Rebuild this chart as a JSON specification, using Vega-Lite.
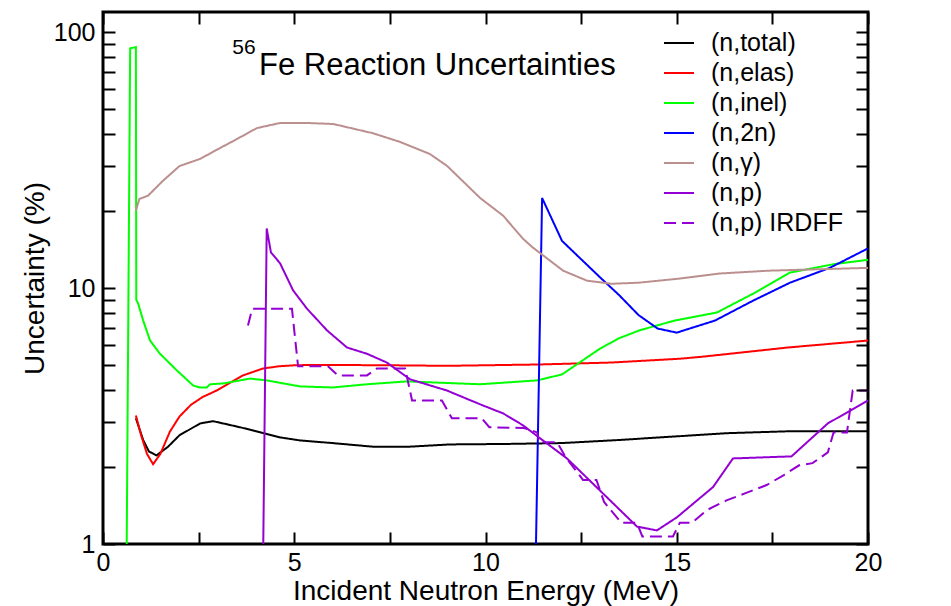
{
  "$schema": "https://vega.github.io/schema/vega-lite/v6.json",
  "width": 765,
  "height": 532,
  "autosize": {"type": "none"},
  "padding": {"left": 103, "top": 12, "right": 83, "bottom": 62},
  "background": "white",
  "config": {
    "font": "Liberation Sans",
    "view": {"stroke": "black", "strokeWidth": 3}
  },
  "datasets": {
    "reactions": [
      {"reaction": "(n,total)", "energy": 0.86, "uncertainty": 3.10},
      {"reaction": "(n,total)", "energy": 1.05, "uncertainty": 2.55},
      {"reaction": "(n,total)", "energy": 1.2, "uncertainty": 2.3},
      {"reaction": "(n,total)", "energy": 1.4, "uncertainty": 2.22},
      {"reaction": "(n,total)", "energy": 1.7, "uncertainty": 2.40},
      {"reaction": "(n,total)", "energy": 2.0, "uncertainty": 2.66},
      {"reaction": "(n,total)", "energy": 2.54, "uncertainty": 2.96},
      {"reaction": "(n,total)", "energy": 2.88, "uncertainty": 3.02},
      {"reaction": "(n,total)", "energy": 3.58, "uncertainty": 2.86},
      {"reaction": "(n,total)", "energy": 4.0, "uncertainty": 2.76},
      {"reaction": "(n,total)", "energy": 4.63, "uncertainty": 2.61},
      {"reaction": "(n,total)", "energy": 5.15, "uncertainty": 2.54},
      {"reaction": "(n,total)", "energy": 6.0, "uncertainty": 2.48},
      {"reaction": "(n,total)", "energy": 7.06, "uncertainty": 2.40},
      {"reaction": "(n,total)", "energy": 8.0, "uncertainty": 2.40},
      {"reaction": "(n,total)", "energy": 9.07, "uncertainty": 2.45},
      {"reaction": "(n,total)", "energy": 10.5, "uncertainty": 2.46},
      {"reaction": "(n,total)", "energy": 12.0, "uncertainty": 2.48},
      {"reaction": "(n,total)", "energy": 13.5, "uncertainty": 2.55},
      {"reaction": "(n,total)", "energy": 14.56, "uncertainty": 2.61},
      {"reaction": "(n,total)", "energy": 15.1, "uncertainty": 2.64},
      {"reaction": "(n,total)", "energy": 16.3, "uncertainty": 2.71},
      {"reaction": "(n,total)", "energy": 18.0, "uncertainty": 2.76},
      {"reaction": "(n,total)", "energy": 20.0, "uncertainty": 2.76},

      {"reaction": "(n,elas)", "energy": 0.86, "uncertainty": 3.18},
      {"reaction": "(n,elas)", "energy": 1.0, "uncertainty": 2.65},
      {"reaction": "(n,elas)", "energy": 1.15, "uncertainty": 2.25},
      {"reaction": "(n,elas)", "energy": 1.31, "uncertainty": 2.05},
      {"reaction": "(n,elas)", "energy": 1.5, "uncertainty": 2.25},
      {"reaction": "(n,elas)", "energy": 1.75, "uncertainty": 2.75},
      {"reaction": "(n,elas)", "energy": 2.0, "uncertainty": 3.15},
      {"reaction": "(n,elas)", "energy": 2.3, "uncertainty": 3.5},
      {"reaction": "(n,elas)", "energy": 2.6, "uncertainty": 3.75},
      {"reaction": "(n,elas)", "energy": 2.97, "uncertainty": 3.98},
      {"reaction": "(n,elas)", "energy": 3.3, "uncertainty": 4.25},
      {"reaction": "(n,elas)", "energy": 3.66, "uncertainty": 4.56},
      {"reaction": "(n,elas)", "energy": 4.18, "uncertainty": 4.85},
      {"reaction": "(n,elas)", "energy": 4.6, "uncertainty": 4.95},
      {"reaction": "(n,elas)", "energy": 5.07, "uncertainty": 5.0},
      {"reaction": "(n,elas)", "energy": 6.0, "uncertainty": 5.01},
      {"reaction": "(n,elas)", "energy": 7.76, "uncertainty": 4.99},
      {"reaction": "(n,elas)", "energy": 9.0, "uncertainty": 4.97},
      {"reaction": "(n,elas)", "energy": 11.4, "uncertainty": 5.03},
      {"reaction": "(n,elas)", "energy": 13.3, "uncertainty": 5.12},
      {"reaction": "(n,elas)", "energy": 15.1, "uncertainty": 5.30},
      {"reaction": "(n,elas)", "energy": 15.7, "uncertainty": 5.40},
      {"reaction": "(n,elas)", "energy": 17.9, "uncertainty": 5.86},
      {"reaction": "(n,elas)", "energy": 20.0, "uncertainty": 6.24},

      {"reaction": "(n,inel)", "energy": 0.62, "uncertainty": 1.0},
      {"reaction": "(n,inel)", "energy": 0.71, "uncertainty": 86.5},
      {"reaction": "(n,inel)", "energy": 0.86, "uncertainty": 87.5},
      {"reaction": "(n,inel)", "energy": 0.87, "uncertainty": 9.0},
      {"reaction": "(n,inel)", "energy": 0.92, "uncertainty": 8.7},
      {"reaction": "(n,inel)", "energy": 1.05, "uncertainty": 7.47},
      {"reaction": "(n,inel)", "energy": 1.23, "uncertainty": 6.24},
      {"reaction": "(n,inel)", "energy": 1.49, "uncertainty": 5.54},
      {"reaction": "(n,inel)", "energy": 1.93, "uncertainty": 4.77},
      {"reaction": "(n,inel)", "energy": 2.36, "uncertainty": 4.16},
      {"reaction": "(n,inel)", "energy": 2.54, "uncertainty": 4.09},
      {"reaction": "(n,inel)", "energy": 2.71, "uncertainty": 4.09},
      {"reaction": "(n,inel)", "energy": 2.8, "uncertainty": 4.21},
      {"reaction": "(n,inel)", "energy": 3.14, "uncertainty": 4.24},
      {"reaction": "(n,inel)", "energy": 3.84, "uncertainty": 4.43},
      {"reaction": "(n,inel)", "energy": 4.28, "uncertainty": 4.36},
      {"reaction": "(n,inel)", "energy": 5.15, "uncertainty": 4.13},
      {"reaction": "(n,inel)", "energy": 6.0, "uncertainty": 4.09},
      {"reaction": "(n,inel)", "energy": 6.9, "uncertainty": 4.21},
      {"reaction": "(n,inel)", "energy": 7.94, "uncertainty": 4.32},
      {"reaction": "(n,inel)", "energy": 9.86, "uncertainty": 4.21},
      {"reaction": "(n,inel)", "energy": 11.35, "uncertainty": 4.36},
      {"reaction": "(n,inel)", "energy": 12.0, "uncertainty": 4.6},
      {"reaction": "(n,inel)", "energy": 13.0, "uncertainty": 5.81},
      {"reaction": "(n,inel)", "energy": 13.5, "uncertainty": 6.38},
      {"reaction": "(n,inel)", "energy": 14.04, "uncertainty": 6.85},
      {"reaction": "(n,inel)", "energy": 14.95, "uncertainty": 7.47},
      {"reaction": "(n,inel)", "energy": 16.05, "uncertainty": 8.03},
      {"reaction": "(n,inel)", "energy": 17.0, "uncertainty": 9.52},
      {"reaction": "(n,inel)", "energy": 17.96, "uncertainty": 11.5},
      {"reaction": "(n,inel)", "energy": 19.1, "uncertainty": 12.4},
      {"reaction": "(n,inel)", "energy": 20.0, "uncertainty": 12.9},

      {"reaction": "(n,2n)", "energy": 11.32, "uncertainty": 1.0},
      {"reaction": "(n,2n)", "energy": 11.48, "uncertainty": 22.5},
      {"reaction": "(n,2n)", "energy": 12.0, "uncertainty": 15.3},
      {"reaction": "(n,2n)", "energy": 12.47, "uncertainty": 13.1},
      {"reaction": "(n,2n)", "energy": 13.0, "uncertainty": 11.0},
      {"reaction": "(n,2n)", "energy": 13.5, "uncertainty": 9.37},
      {"reaction": "(n,2n)", "energy": 14.0, "uncertainty": 7.85},
      {"reaction": "(n,2n)", "energy": 14.5, "uncertainty": 6.95},
      {"reaction": "(n,2n)", "energy": 15.0, "uncertainty": 6.7},
      {"reaction": "(n,2n)", "energy": 16.0, "uncertainty": 7.47},
      {"reaction": "(n,2n)", "energy": 17.0, "uncertainty": 8.94},
      {"reaction": "(n,2n)", "energy": 17.96, "uncertainty": 10.5},
      {"reaction": "(n,2n)", "energy": 19.0, "uncertainty": 12.0},
      {"reaction": "(n,2n)", "energy": 20.0, "uncertainty": 14.3},

      {"reaction": "(n,γ)", "energy": 0.86, "uncertainty": 20.1},
      {"reaction": "(n,γ)", "energy": 0.95, "uncertainty": 22.3},
      {"reaction": "(n,γ)", "energy": 1.18, "uncertainty": 23.0},
      {"reaction": "(n,γ)", "energy": 1.57, "uncertainty": 26.3},
      {"reaction": "(n,γ)", "energy": 2.0, "uncertainty": 30.0},
      {"reaction": "(n,γ)", "energy": 2.54, "uncertainty": 32.0},
      {"reaction": "(n,γ)", "energy": 2.97, "uncertainty": 34.7},
      {"reaction": "(n,γ)", "energy": 3.41, "uncertainty": 37.6},
      {"reaction": "(n,γ)", "energy": 4.02, "uncertainty": 42.2},
      {"reaction": "(n,γ)", "energy": 4.63, "uncertainty": 44.2},
      {"reaction": "(n,γ)", "energy": 5.33, "uncertainty": 44.2},
      {"reaction": "(n,γ)", "energy": 6.02, "uncertainty": 43.8},
      {"reaction": "(n,γ)", "energy": 7.06, "uncertainty": 40.3},
      {"reaction": "(n,γ)", "energy": 7.76, "uncertainty": 37.3},
      {"reaction": "(n,γ)", "energy": 8.55, "uncertainty": 33.4},
      {"reaction": "(n,γ)", "energy": 9.0, "uncertainty": 30.0},
      {"reaction": "(n,γ)", "energy": 9.86, "uncertainty": 22.5},
      {"reaction": "(n,γ)", "energy": 10.46, "uncertainty": 19.2},
      {"reaction": "(n,γ)", "energy": 10.98, "uncertainty": 15.6},
      {"reaction": "(n,γ)", "energy": 11.24, "uncertainty": 14.4},
      {"reaction": "(n,γ)", "energy": 12.03, "uncertainty": 11.7},
      {"reaction": "(n,γ)", "energy": 12.65, "uncertainty": 10.7},
      {"reaction": "(n,γ)", "energy": 13.3, "uncertainty": 10.4},
      {"reaction": "(n,γ)", "energy": 14.0, "uncertainty": 10.5},
      {"reaction": "(n,γ)", "energy": 15.08, "uncertainty": 10.9},
      {"reaction": "(n,γ)", "energy": 16.1, "uncertainty": 11.4},
      {"reaction": "(n,γ)", "energy": 17.4, "uncertainty": 11.7},
      {"reaction": "(n,γ)", "energy": 20.0, "uncertainty": 12.0},

      {"reaction": "(n,p)", "energy": 4.19, "uncertainty": 1.0},
      {"reaction": "(n,p)", "energy": 4.28, "uncertainty": 17.1},
      {"reaction": "(n,p)", "energy": 4.39, "uncertainty": 13.8},
      {"reaction": "(n,p)", "energy": 4.63, "uncertainty": 12.5},
      {"reaction": "(n,p)", "energy": 4.97, "uncertainty": 9.8},
      {"reaction": "(n,p)", "energy": 5.33, "uncertainty": 8.32},
      {"reaction": "(n,p)", "energy": 5.86, "uncertainty": 6.83},
      {"reaction": "(n,p)", "energy": 6.38, "uncertainty": 5.86},
      {"reaction": "(n,p)", "energy": 6.9, "uncertainty": 5.54},
      {"reaction": "(n,p)", "energy": 7.42, "uncertainty": 5.12},
      {"reaction": "(n,p)", "energy": 8.03, "uncertainty": 4.4},
      {"reaction": "(n,p)", "energy": 8.99, "uncertainty": 3.98},
      {"reaction": "(n,p)", "energy": 9.93, "uncertainty": 3.48},
      {"reaction": "(n,p)", "energy": 10.46, "uncertainty": 3.24},
      {"reaction": "(n,p)", "energy": 10.98, "uncertainty": 2.91},
      {"reaction": "(n,p)", "energy": 11.5, "uncertainty": 2.54},
      {"reaction": "(n,p)", "energy": 12.13, "uncertainty": 2.16},
      {"reaction": "(n,p)", "energy": 13.96, "uncertainty": 1.17},
      {"reaction": "(n,p)", "energy": 14.48, "uncertainty": 1.13},
      {"reaction": "(n,p)", "energy": 15.0, "uncertainty": 1.27},
      {"reaction": "(n,p)", "energy": 15.95, "uncertainty": 1.67},
      {"reaction": "(n,p)", "energy": 16.47, "uncertainty": 2.16},
      {"reaction": "(n,p)", "energy": 18.0, "uncertainty": 2.2},
      {"reaction": "(n,p)", "energy": 18.95, "uncertainty": 2.96},
      {"reaction": "(n,p)", "energy": 20.0, "uncertainty": 3.64}
    ],
    "irdff": [
      {"reaction": "(n,p) IRDFF", "energy": 3.79, "uncertainty": 7.15},
      {"reaction": "(n,p) IRDFF", "energy": 3.9, "uncertainty": 8.3},
      {"reaction": "(n,p) IRDFF", "energy": 4.94, "uncertainty": 8.3},
      {"reaction": "(n,p) IRDFF", "energy": 5.1, "uncertainty": 4.95},
      {"reaction": "(n,p) IRDFF", "energy": 5.88, "uncertainty": 4.95},
      {"reaction": "(n,p) IRDFF", "energy": 6.14, "uncertainty": 4.56},
      {"reaction": "(n,p) IRDFF", "energy": 6.9, "uncertainty": 4.56},
      {"reaction": "(n,p) IRDFF", "energy": 7.16, "uncertainty": 4.85},
      {"reaction": "(n,p) IRDFF", "energy": 7.9, "uncertainty": 4.85},
      {"reaction": "(n,p) IRDFF", "energy": 8.08, "uncertainty": 3.64},
      {"reaction": "(n,p) IRDFF", "energy": 8.86, "uncertainty": 3.64},
      {"reaction": "(n,p) IRDFF", "energy": 9.12, "uncertainty": 3.10},
      {"reaction": "(n,p) IRDFF", "energy": 9.9, "uncertainty": 3.10},
      {"reaction": "(n,p) IRDFF", "energy": 10.1, "uncertainty": 2.86},
      {"reaction": "(n,p) IRDFF", "energy": 11.0, "uncertainty": 2.84},
      {"reaction": "(n,p) IRDFF", "energy": 11.35, "uncertainty": 2.73},
      {"reaction": "(n,p) IRDFF", "energy": 11.4, "uncertainty": 2.5},
      {"reaction": "(n,p) IRDFF", "energy": 11.87, "uncertainty": 2.5},
      {"reaction": "(n,p) IRDFF", "energy": 12.1, "uncertainty": 2.18},
      {"reaction": "(n,p) IRDFF", "energy": 12.55, "uncertainty": 1.78},
      {"reaction": "(n,p) IRDFF", "energy": 12.9, "uncertainty": 1.78},
      {"reaction": "(n,p) IRDFF", "energy": 13.1, "uncertainty": 1.46},
      {"reaction": "(n,p) IRDFF", "energy": 13.55, "uncertainty": 1.21},
      {"reaction": "(n,p) IRDFF", "energy": 13.96, "uncertainty": 1.21},
      {"reaction": "(n,p) IRDFF", "energy": 14.1, "uncertainty": 1.07},
      {"reaction": "(n,p) IRDFF", "energy": 14.9, "uncertainty": 1.07},
      {"reaction": "(n,p) IRDFF", "energy": 15.08, "uncertainty": 1.21},
      {"reaction": "(n,p) IRDFF", "energy": 15.4, "uncertainty": 1.21},
      {"reaction": "(n,p) IRDFF", "energy": 15.8, "uncertainty": 1.36},
      {"reaction": "(n,p) IRDFF", "energy": 16.3, "uncertainty": 1.48},
      {"reaction": "(n,p) IRDFF", "energy": 16.8, "uncertainty": 1.58},
      {"reaction": "(n,p) IRDFF", "energy": 17.35, "uncertainty": 1.7},
      {"reaction": "(n,p) IRDFF", "energy": 17.8, "uncertainty": 1.86},
      {"reaction": "(n,p) IRDFF", "energy": 18.2, "uncertainty": 2.03},
      {"reaction": "(n,p) IRDFF", "energy": 18.55, "uncertainty": 2.07},
      {"reaction": "(n,p) IRDFF", "energy": 18.95, "uncertainty": 2.28},
      {"reaction": "(n,p) IRDFF", "energy": 19.1, "uncertainty": 2.73},
      {"reaction": "(n,p) IRDFF", "energy": 19.45, "uncertainty": 2.73},
      {"reaction": "(n,p) IRDFF", "energy": 19.6, "uncertainty": 3.98},
      {"reaction": "(n,p) IRDFF", "energy": 20.0, "uncertainty": 3.98}
    ],
    "heading": [{}]
  },
  "layer": [
    {
      "data": {"name": "reactions"},
      "mark": {"type": "line", "strokeWidth": 2},
      "encoding": {
        "x": {
          "field": "energy", "type": "quantitative",
          "scale": {"domain": [0, 20], "nice": false, "zero": false},
          "axis": {
            "orient": "bottom", "offset": -12, "grid": false, "domain": false, "zindex": 1,
            "tickColor": "black", "tickWidth": 2, "tickSize": 12,
            "values": [0, 2.5, 5, 7.5, 10, 12.5, 15, 17.5, 20],
            "labelExpr": "datum.value % 5 === 0 ? '' + datum.value : ''",
            "labelFontSize": 25, "labelColor": "black", "labelPadding": 6, "labelFlush": false,
            "title": "Incident Neutron Energy (MeV)", "titleFontSize": 28, "titleFontWeight": "normal", "titleColor": "black", "titlePadding": 2
          }
        },
        "y": {
          "field": "uncertainty", "type": "quantitative",
          "scale": {"type": "log", "domain": [1, 120], "nice": false},
          "axis": {
            "orient": "left", "offset": -12, "grid": false, "domain": false, "zindex": 1,
            "tickColor": "black", "tickWidth": 2, "tickSize": 12,
            "values": [1, 2, 3, 4, 5, 6, 7, 8, 9, 10, 20, 30, 40, 50, 60, 70, 80, 90, 100],
            "labelExpr": "datum.value == 1 || datum.value == 10 || datum.value == 100 ? '' + datum.value : ''",
            "labelFontSize": 25, "labelColor": "black", "labelPadding": 8,
            "title": "Uncertainty (%)", "titleFontSize": 28, "titleFontWeight": "normal", "titleColor": "black", "titlePadding": 4
          }
        },
        "color": {
          "field": "reaction", "type": "nominal",
          "scale": {
            "domain": ["(n,total)", "(n,elas)", "(n,inel)", "(n,2n)", "(n,γ)", "(n,p)", "(n,p) IRDFF"],
            "range": ["#000000", "#ff0000", "#00ff00", "#0000ff", "#bc8f8f", "#9400d3", "#9400d3"]
          },
          "legend": {"orient": "none", "legendX": 560, "legendY": 15, "title": null, "padding": 0, "symbolType": "stroke", "symbolSize": 900, "symbolStrokeWidth": 2, "labelFontSize": 25, "labelColor": "black", "labelOffset": 16, "rowPadding": 1}
        },
        "strokeDash": {
          "field": "reaction", "type": "nominal",
          "scale": {
            "domain": ["(n,total)", "(n,elas)", "(n,inel)", "(n,2n)", "(n,γ)", "(n,p)", "(n,p) IRDFF"],
            "range": [[1, 0], [1, 0], [1, 0], [1, 0], [1, 0], [1, 0], [12, 6]]
          },
          "legend": {"orient": "none", "legendX": 560, "legendY": 15, "title": null, "padding": 0, "symbolType": "stroke", "symbolSize": 900, "symbolStrokeWidth": 2, "labelFontSize": 25, "labelColor": "black", "labelOffset": 16, "rowPadding": 1}
        }
      }
    },
    {
      "data": {"name": "irdff"},
      "mark": {"type": "line", "strokeWidth": 2},
      "encoding": {
        "x": {
          "field": "energy", "type": "quantitative",
          "axis": {"orient": "top", "offset": -12, "grid": false, "domain": false, "zindex": 1, "tickColor": "black", "tickWidth": 2, "tickSize": 12, "title": null, "labels": false, "values": [0, 2.5, 5, 7.5, 10, 12.5, 15, 17.5, 20]}
        },
        "y": {
          "field": "uncertainty", "type": "quantitative",
          "axis": {"orient": "right", "offset": -12, "grid": false, "domain": false, "zindex": 1, "tickColor": "black", "tickWidth": 2, "tickSize": 12, "title": null, "labels": false, "values": [1, 2, 3, 4, 5, 6, 7, 8, 9, 10, 20, 30, 40, 50, 60, 70, 80, 90, 100]}
        },
        "color": {"field": "reaction", "type": "nominal"},
        "strokeDash": {"field": "reaction", "type": "nominal"}
      }
    },
    {
      "data": {"name": "heading"},
      "mark": {"type": "text", "text": "Fe Reaction Uncertainties", "align": "left", "baseline": "alphabetic", "fontSize": 31, "color": "black"},
      "encoding": {
        "x": {"datum": 4.08, "type": "quantitative", "axis": null},
        "y": {"datum": 68, "type": "quantitative", "axis": null}
      }
    },
    {
      "data": {"name": "heading"},
      "mark": {"type": "text", "text": "56", "align": "left", "baseline": "alphabetic", "fontSize": 21, "color": "black"},
      "encoding": {
        "x": {"datum": 3.38, "type": "quantitative", "axis": null},
        "y": {"datum": 82, "type": "quantitative", "axis": null}
      }
    }
  ],
  "resolve": {"axis": {"x": "independent", "y": "independent"}}
}
